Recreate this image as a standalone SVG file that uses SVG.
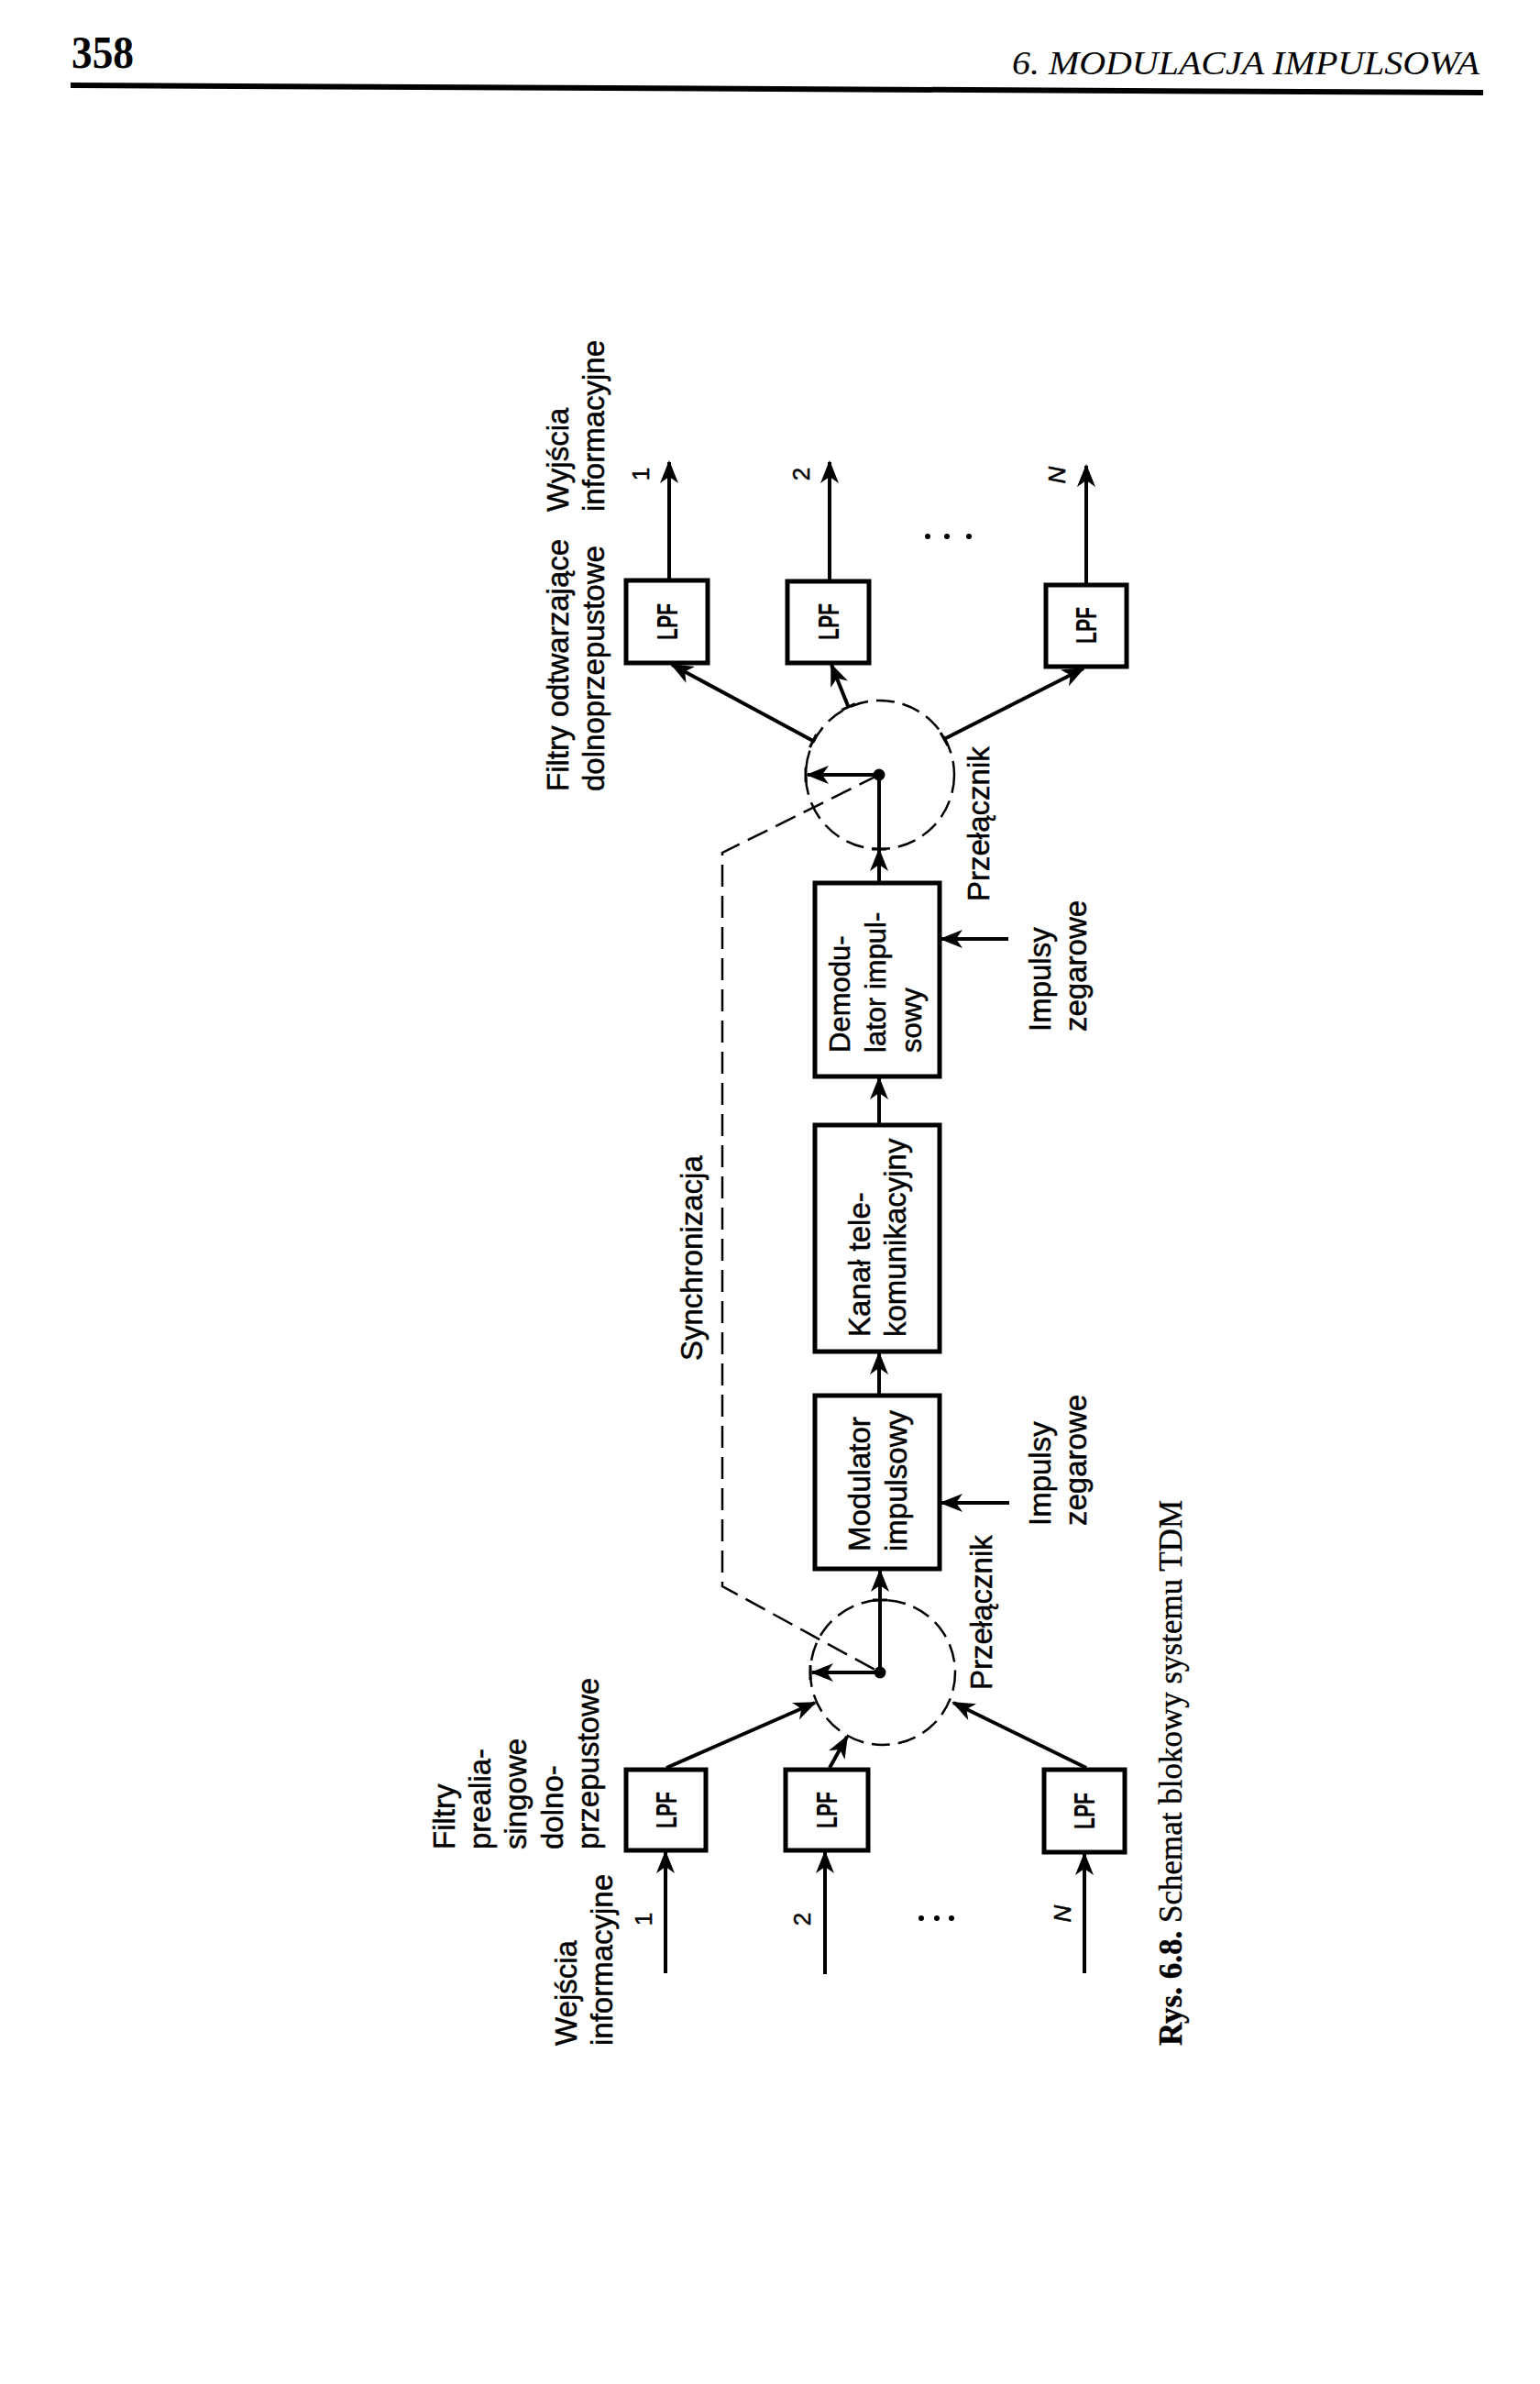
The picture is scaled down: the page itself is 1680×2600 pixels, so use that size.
<svg xmlns="http://www.w3.org/2000/svg" width="1680" height="2600" viewBox="0 0 1680 2600">
<defs>
<marker id="ah" viewBox="-26 -12 30 24" refX="0" refY="0" markerWidth="30" markerHeight="24" orient="auto" markerUnits="userSpaceOnUse">
<path d="M2,0 L-23,-10 L-16,0 L-23,10 Z" fill="#000"/>
</marker>
</defs>
<style>
.box{fill:#fff;stroke:#000;stroke-width:5}
.ln{fill:none;stroke:#000;stroke-width:4}
.tk{stroke:#000;stroke-width:3}
.ar{fill:none;stroke:#000;stroke-width:4;marker-end:url(#ah)}
.dash{fill:none;stroke:#000;stroke-width:2.5;stroke-dasharray:24 10}
.sw{fill:none;stroke:#000;stroke-width:2.5;stroke-dasharray:20 9}
.lbl{font-family:"Liberation Sans",Arial,sans-serif;font-size:33px;fill:#000;stroke:#000;stroke-width:0.5}
.bt{font-family:"Liberation Sans",Arial,sans-serif;font-size:33px;fill:#000;stroke:#000;stroke-width:0.5}
.lpf{font-family:"Liberation Sans",Arial,sans-serif;font-size:31px;font-weight:bold;fill:#000;text-anchor:middle}
.num{font-family:"Liberation Sans",Arial,sans-serif;font-size:26px;fill:#000;text-anchor:middle;stroke:#000;stroke-width:0.5}
</style>
<rect width="1680" height="2600" fill="#fff"/>

<!-- page header -->
<g id="header">
<text x="78" y="74" font-family="Liberation Serif,Times New Roman,serif" font-size="50" font-weight="bold" textLength="68" lengthAdjust="spacingAndGlyphs">358</text>
<text x="1614" y="81" font-family="Liberation Serif,Times New Roman,serif" font-size="36" font-style="italic" text-anchor="end" textLength="510" lengthAdjust="spacingAndGlyphs">6. MODULACJA IMPULSOWA</text>
<line x1="77" y1="93" x2="1618" y2="101" stroke="#000" stroke-width="6"/>
</g>

<!-- labels -->
<g id="label-filtry-odtw" class="lbl">
<text transform="translate(620,863) rotate(-90)">Filtry odtwarzające</text>
<text transform="translate(659,863) rotate(-90)">dolnoprzepustowe</text>
</g>
<g id="label-wyjscia" class="lbl">
<text transform="translate(620,558) rotate(-90)">Wyjścia</text>
<text transform="translate(659,558) rotate(-90)">informacyjne</text>
</g>
<g id="label-filtry-preal" class="lbl">
<text transform="translate(496,2017) rotate(-90)">Filtry</text>
<text transform="translate(535,2017) rotate(-90)">prealia-</text>
<text transform="translate(574,2017) rotate(-90)">singowe</text>
<text transform="translate(614,2017) rotate(-90)">dolno-</text>
<text transform="translate(653,2017) rotate(-90)">przepustowe</text>
</g>
<g id="label-wejscia" class="lbl">
<text transform="translate(629,2231) rotate(-90)">Wejścia</text>
<text transform="translate(668,2231) rotate(-90)">informacyjne</text>
</g>
<g id="label-sync" class="lbl">
<text transform="translate(766,1484) rotate(-90)">Synchronizacja</text>
</g>
<g id="label-przel-rx" class="lbl">
<text transform="translate(1079,983) rotate(-90)">Przełącznik</text>
</g>
<g id="label-przel-tx" class="lbl">
<text transform="translate(1082,1843) rotate(-90)">Przełącznik</text>
</g>
<g id="label-clk-rx" class="lbl">
<text transform="translate(1146,1125) rotate(-90)">Impulsy</text>
<text transform="translate(1185,1125) rotate(-90)">zegarowe</text>
</g>
<g id="label-clk-tx" class="lbl">
<text transform="translate(1146,1664) rotate(-90)">Impulsy</text>
<text transform="translate(1185,1664) rotate(-90)">zegarowe</text>
</g>
<g id="label-numbers" class="num">
<text transform="translate(708,517) rotate(-90)">1</text>
<text transform="translate(883,517) rotate(-90)">2</text>
<text transform="translate(1162,518) rotate(-90)" font-style="italic">N</text>
<text transform="translate(711,2093) rotate(-90)">1</text>
<text transform="translate(884,2093) rotate(-90)">2</text>
<text transform="translate(1168,2087) rotate(-90)" font-style="italic">N</text>
</g>
<g id="ellipsis-dots" fill="#000">
<circle cx="1012" cy="585" r="3"/><circle cx="1033" cy="585" r="3"/><circle cx="1057" cy="585" r="3"/>
<circle cx="1005" cy="2092" r="3"/><circle cx="1022" cy="2092" r="3"/><circle cx="1038" cy="2092" r="3"/>
</g>

<!-- output LPF nodes -->
<g id="lpf-out-1"><rect class="box" x="683" y="633" width="89" height="90"/><text class="lpf" transform="translate(739,678) rotate(-90)" textLength="40" lengthAdjust="spacingAndGlyphs">LPF</text></g>
<g id="lpf-out-2"><rect class="box" x="859" y="634" width="89" height="89"/><text class="lpf" transform="translate(915,678) rotate(-90)" textLength="40" lengthAdjust="spacingAndGlyphs">LPF</text></g>
<g id="lpf-out-N"><rect class="box" x="1141" y="638" width="88" height="89"/><text class="lpf" transform="translate(1196,682) rotate(-90)" textLength="40" lengthAdjust="spacingAndGlyphs">LPF</text></g>

<!-- receiver switch -->
<g id="switch-rx">
<circle class="sw" cx="960" cy="845" r="81"/>
<circle cx="959" cy="845" r="6.5" fill="#000"/>
</g>

<!-- demodulator -->
<g id="demodulator">
<rect class="box" x="889" y="963" width="136" height="211"/>
<text class="bt" transform="translate(927,1148) rotate(-90)" style="font-size:31px">Demodu-</text>
<text class="bt" transform="translate(966,1148) rotate(-90)" style="font-size:31px">lator impul-</text>
<text class="bt" transform="translate(1005,1148) rotate(-90)" style="font-size:31px">sowy</text>
</g>

<!-- channel -->
<g id="channel">
<rect class="box" x="889" y="1227" width="136" height="247"/>
<text class="bt" transform="translate(949,1458) rotate(-90)">Kanał tele-</text>
<text class="bt" transform="translate(988,1458) rotate(-90)">komunikacyjny</text>
</g>

<!-- modulator -->
<g id="modulator">
<rect class="box" x="889" y="1522" width="136" height="189"/>
<text class="bt" transform="translate(949,1692) rotate(-90)">Modulator</text>
<text class="bt" transform="translate(989,1692) rotate(-90)">impulsowy</text>
</g>

<!-- transmitter switch -->
<g id="switch-tx">
<circle class="sw" cx="963" cy="1824" r="79"/>
<circle cx="960" cy="1824" r="6.5" fill="#000"/>
</g>

<!-- input LPF nodes -->
<g id="lpf-in-1"><rect class="box" x="683" y="1930" width="87" height="88"/><text class="lpf" transform="translate(738,1974) rotate(-90)" textLength="40" lengthAdjust="spacingAndGlyphs">LPF</text></g>
<g id="lpf-in-2"><rect class="box" x="857" y="1930" width="90" height="88"/><text class="lpf" transform="translate(913,1974) rotate(-90)" textLength="40" lengthAdjust="spacingAndGlyphs">LPF</text></g>
<g id="lpf-in-N"><rect class="box" x="1139" y="1930" width="88" height="90"/><text class="lpf" transform="translate(1194,1975) rotate(-90)" textLength="40" lengthAdjust="spacingAndGlyphs">LPF</text></g>

<!-- caption -->
<g id="caption">
<text transform="translate(1289,2231) rotate(-90)" font-family="Liberation Serif,Times New Roman,serif" font-size="35" stroke="#000" stroke-width="0.4"><tspan font-weight="bold">Rys. 6.8.</tspan> Schemat blokowy systemu TDM</text>
</g>

<!-- connectors -->
<g id="connectors">
<line class="ar" x1="730" y1="633" x2="730" y2="504"/>
<line class="ar" x1="905" y1="634" x2="905" y2="504"/>
<line class="ar" x1="1185" y1="638" x2="1185" y2="508"/>

<line class="ar" x1="887" y1="808" x2="733" y2="725"/>
<line class="tk" x1="883.4" y1="815.1" x2="890.6" y2="800.9"/>
<line class="ar" x1="925.5" y1="771" x2="907" y2="725"/>
<line class="tk" x1="918.2" y1="774.3" x2="932.8" y2="767.7"/>
<line class="ar" x1="1030" y1="806" x2="1182" y2="729"/>
<line class="tk" x1="1026.1" y1="799" x2="1033.9" y2="813"/>

<line class="ar" x1="959" y1="845" x2="881" y2="845"/>
<line class="tk" x1="879" y1="837" x2="879" y2="853"/>
<line class="ar" x1="959" y1="963" x2="959" y2="927"/>
<line class="ln" x1="959" y1="927" x2="959" y2="845"/>
<line class="tk" x1="951" y1="926" x2="967" y2="926"/>

<path class="dash" d="M959,845 L788,930 L788,1730 L960,1824"/>

<line class="ar" x1="1100" y1="1024" x2="1027" y2="1024"/>
<line class="ar" x1="959" y1="1227" x2="959" y2="1176"/>
<line class="ar" x1="959" y1="1522" x2="959" y2="1476"/>
<line class="ar" x1="1101" y1="1639" x2="1027" y2="1639"/>

<line class="ar" x1="960" y1="1824" x2="960" y2="1713"/>
<line class="tk" x1="952" y1="1745" x2="968" y2="1745"/>
<line class="ar" x1="960" y1="1824" x2="886" y2="1824"/>
<line class="tk" x1="884" y1="1816" x2="884" y2="1832"/>

<line class="ar" x1="727" y1="1928" x2="889" y2="1857"/>
<line class="ar" x1="905" y1="1928" x2="924" y2="1894"/>
<line class="ar" x1="1185" y1="1928" x2="1040" y2="1857"/>

<line class="ar" x1="726" y1="2152" x2="726" y2="2020"/>
<line class="ar" x1="900" y1="2153" x2="900" y2="2020"/>
<line class="ar" x1="1183" y1="2152" x2="1183" y2="2022"/>
</g>
</svg>
